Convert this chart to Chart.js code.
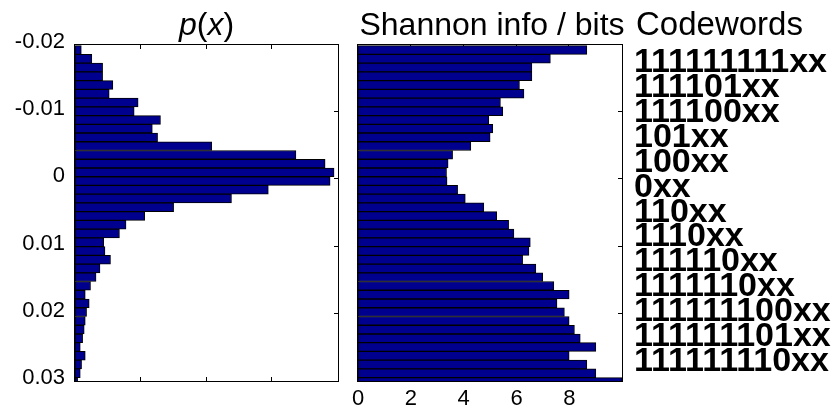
<!DOCTYPE html>
<html>
<head>
<meta charset="utf-8">
<script src="https://cdn.jsdelivr.net/npm/chart.js@4/dist/chart.umd.min.js"></script>
<style>
  html, body { margin: 0; padding: 0; background: #fff; }
  #wrap { position: relative; width: 833px; height: 406px; overflow: hidden; background: #fff; }
  #wrap canvas { position: absolute; left: 0; top: 0; }
</style>
</head>
<body>
<div id="wrap">
  <canvas id="pdf" width="833" height="406"></canvas>
  <canvas id="info" width="833" height="406"></canvas>
</div>
<script>
// Histogram bin centres (values of x)
const binCentres = [
  -0.01925, -0.01795, -0.01665, -0.01535, -0.01405, -0.01275, -0.01145, -0.01015,
  -0.00885, -0.00755, -0.00625, -0.00495, -0.00365, -0.00235, -0.00105,  0.00025,
   0.00155,  0.00285,  0.00415,  0.00545,  0.00675,  0.00805,  0.00935,  0.01065,
   0.01195,  0.01325,  0.01455,  0.01585,  0.01715,  0.01845,  0.01975,  0.02105,
   0.02235,  0.02365,  0.02495,  0.02625,  0.02755,  0.02885,  0.03015
];

// Probability of each bin
const probability = [
  0.0024, 0.0064, 0.0105, 0.0105, 0.0144, 0.0130, 0.0240, 0.0225,
  0.0325, 0.0294, 0.0314, 0.0520, 0.0840, 0.0951, 0.0985, 0.0970,
  0.0735, 0.0595, 0.0375, 0.0265, 0.0194, 0.0169, 0.0109, 0.0114,
  0.0135, 0.0095, 0.0080, 0.0059, 0.0039, 0.0054, 0.0044, 0.0039,
  0.0035, 0.0029, 0.0020, 0.0039, 0.0025, 0.0020, 0.0010
];

// Shannon information of each bin, in bits
const infoBits = [
  8.66, 7.28, 6.58, 6.58, 6.11, 6.28, 5.39, 5.48,
  4.95, 5.10, 5.00, 4.27, 3.58, 3.41, 3.35, 3.37,
  3.77, 4.06, 4.76, 5.25, 5.70, 5.90, 6.52, 6.47,
  6.23, 6.73, 6.99, 7.41, 7.99, 7.53, 7.81, 7.99,
  8.19, 8.41, 9.00, 7.99, 8.66, 9.00, 9.99
];

// Variable-length code assigned to each group of bins
const codewords = [
  '111111111xx', '111101xx', '111100xx', '101xx', '100xx', '0xx', '110xx',
  '1110xx', '111110xx', '1111110xx', '111111100xx', '111111101xx', '111111110xx'
];

const yTicks = [-0.02, -0.01, 0, 0.01, 0.02, 0.03];
const xTicksProb = [0, 0.025, 0.05, 0.075, 0.1];
const xTicksBits = [0, 2, 4, 6, 8];

const FONT = "'Liberation Sans', Arial, Helvetica, sans-serif";
const BAR_FILL = '#00008F';

Chart.defaults.font.family = FONT;
Chart.defaults.color = '#000';

// Axes box with inward tick marks
const framePlugin = {
  id: 'frame',
  beforeDatasetsDraw(chart, args, opts) {
    const { ctx, chartArea: a } = chart;
    const x = chart.scales.x, y = chart.scales.y;
    const len = 4;
    ctx.save();
    ctx.strokeStyle = '#000';
    ctx.lineWidth = 1;
    ctx.beginPath();
    opts.xTicks.forEach(v => {
      const px = Math.round(x.getPixelForValue(v)) - 0.5;
      if (px <= a.left + 1 || px >= a.right - 1) return;
      ctx.moveTo(px, a.top); ctx.lineTo(px, a.top + len);
      ctx.moveTo(px, a.bottom); ctx.lineTo(px, a.bottom - len);
    });
    opts.yTicks.forEach(v => {
      const py = Math.round(y.getPixelForValue(v)) - 0.5;
      if (py <= a.top + 1 || py >= a.bottom - 1) return;
      ctx.moveTo(a.right, py); ctx.lineTo(a.right - len, py);
    });
    ctx.stroke();
    ctx.restore();
  },
  afterDatasetsDraw(chart) {
    const { ctx, chartArea: a } = chart;
    ctx.save();
    ctx.strokeStyle = '#000';
    ctx.lineWidth = 1;
    ctx.strokeRect(Math.round(a.left) - 0.5, Math.round(a.top) - 0.5,
                   Math.round(a.right - a.left) + 1, Math.round(a.bottom - a.top) + 1);
    ctx.restore();
  }
};

// Title made of italic and upright runs, centred over the plot area
function drawRuns(ctx, runs, cx, baseline, size) {
  let total = 0;
  runs.forEach(r => {
    ctx.font = (r.italic ? 'italic ' : '') + size + 'px ' + FONT;
    r.w = ctx.measureText(r.text).width;
    total += r.w;
  });
  let xx = cx - total / 2;
  ctx.textBaseline = 'alphabetic';
  ctx.textAlign = 'left';
  runs.forEach(r => {
    ctx.font = (r.italic ? 'italic ' : '') + size + 'px ' + FONT;
    ctx.fillText(r.text, xx, baseline);
    xx += r.w;
  });
}

const pdfTitle = {
  id: 'pdfTitle',
  afterDraw(chart) {
    const { ctx, chartArea: a } = chart;
    ctx.save();
    ctx.fillStyle = '#000';
    drawRuns(ctx, [
      { text: 'p', italic: true }, { text: '(', italic: false },
      { text: 'x', italic: true }, { text: ')', italic: false }
    ], (a.left + a.right) / 2, 35, 32);
    ctx.restore();
  }
};

const infoTitles = {
  id: 'infoTitles',
  afterDraw(chart) {
    const { ctx, chartArea: a } = chart;
    ctx.save();
    ctx.fillStyle = '#000';
    ctx.textBaseline = 'alphabetic';
    ctx.textAlign = 'center';
    ctx.font = '32px ' + FONT;
    ctx.fillText('Shannon info / bits', (a.left + a.right) / 2 + 2, 35);
    ctx.textAlign = 'left';
    ctx.font = '33px ' + FONT;
    ctx.fillText('Codewords', a.right + 14, 35);
    ctx.font = 'bold 34px ' + FONT;
    codewords.forEach((c, i) => {
      ctx.fillText(c, a.right + 12, a.top + 27 + i * 24.92);
    });
    ctx.restore();
  }
};

function barDataset(values) {
  return {
    data: values.map((v, i) => ({ x: v, y: binCentres[i] })),
    backgroundColor: BAR_FILL,
    borderColor: '#000',
    borderWidth: 1,
    borderSkipped: false,
    categoryPercentage: 1,
    barPercentage: 1,
    clip: 0
  };
}

function yScale(showLabels) {
  return {
    type: 'linear',
    reverse: true,
    min: -0.02,
    max: 0.03,
    offset: false,
    display: showLabels,
    grid: { display: false, drawTicks: false, offset: false },
    border: { display: false },
    afterBuildTicks: s => { s.ticks = yTicks.map(v => ({ value: v })); },
    afterFit: s => { if (showLabels) s.width = 75; },
    ticks: {
      font: { size: 22 },
      color: '#000',
      padding: 10,
      labelOffset: -3,
      callback: v => (Math.abs(v) < 1e-9 ? '0' : String(+v.toFixed(2)))
    }
  };
}

new Chart(document.getElementById('pdf'), {
  type: 'bar',
  data: { datasets: [barDataset(probability)] },
  plugins: [framePlugin, pdfTitle],
  options: {
    indexAxis: 'y',
    responsive: false,
    animation: false,
    devicePixelRatio: 1,
    layout: { padding: { left: 0, right: 495, top: 45, bottom: 25 } },
    scales: {
      y: yScale(true),
      x: {
        type: 'linear',
        min: 0,
        max: 0.1,
        display: false,
        afterBuildTicks: s => { s.ticks = xTicksProb.map(v => ({ value: v })); }
      }
    },
    plugins: {
      legend: { display: false },
      tooltip: { enabled: false },
      frame: { xTicks: xTicksProb, yTicks: yTicks }
    }
  }
});

new Chart(document.getElementById('info'), {
  type: 'bar',
  data: { datasets: [barDataset(infoBits)] },
  plugins: [framePlugin, infoTitles],
  options: {
    indexAxis: 'y',
    responsive: false,
    animation: false,
    devicePixelRatio: 1,
    layout: { padding: { left: 358, right: 211, top: 45, bottom: 0 } },
    scales: {
      y: yScale(false),
      x: {
        type: 'linear',
        position: 'bottom',
        min: 0,
        max: 9.99,
        grid: { display: false, drawTicks: false },
        border: { display: false },
        afterBuildTicks: s => { s.ticks = xTicksBits.map(v => ({ value: v })); },
        afterFit: s => { s.height = 25; },
        ticks: { font: { size: 22 }, color: '#000', padding: 5, maxRotation: 0, autoSkip: false }
      }
    },
    plugins: {
      legend: { display: false },
      tooltip: { enabled: false },
      frame: { xTicks: xTicksBits, yTicks: yTicks }
    }
  }
});
</script>
</body>
</html>
